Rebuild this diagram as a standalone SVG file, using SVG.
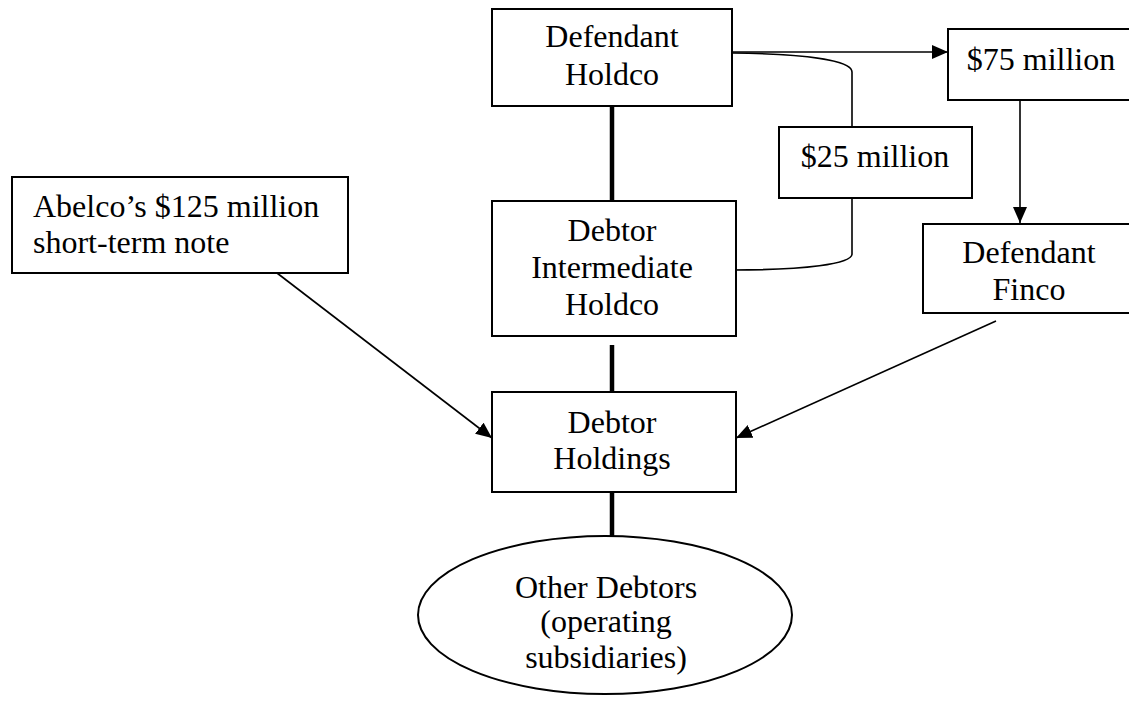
<svg xmlns="http://www.w3.org/2000/svg" width="1129" height="704" viewBox="0 0 1129 704">
<style>
.box{fill:#fff;stroke:#000;stroke-width:2}
.t{font-family:"Liberation Serif","Times New Roman",serif;font-size:32px;fill:#000}
.c{text-anchor:middle}
.thick{stroke:#000;stroke-width:4.5;fill:none}
.thin{stroke:#000;stroke-width:1.6;fill:none}
</style>
<defs>
<marker id="ah" viewBox="0 0 16 14" refX="16" refY="7" markerWidth="16" markerHeight="14" markerUnits="userSpaceOnUse" orient="auto">
<path d="M0,0 L16,7 L0,14 Z" fill="#000"/>
</marker>
</defs>
<rect width="1129" height="704" fill="#fff"/>
<g id="connectors">
<line class="thick" x1="612" y1="106" x2="612" y2="201"/>
<line class="thick" x1="612" y1="345" x2="612" y2="392"/>
<line class="thick" x1="612" y1="489" x2="612" y2="536"/>
<line class="thin" x1="732" y1="52" x2="948" y2="52" marker-end="url(#ah)"/>
<path class="thin" d="M732,53 C805,54 852,60 852,72 L852,127"/>
<path class="thin" d="M852,198 L852,254 C852,264 805,270 732,270"/>
<line class="thin" x1="1020" y1="101" x2="1020" y2="223" marker-end="url(#ah)"/>
<line class="thin" x1="277" y1="273" x2="492" y2="438" marker-end="url(#ah)"/>
<line class="thin" x1="996" y1="321" x2="736" y2="438" marker-end="url(#ah)"/>
</g>
<g id="holdco">
<rect class="box" x="492" y="9" width="240" height="97"/>
<text class="t c" x="612" y="47">Defendant</text>
<text class="t c" x="612" y="85">Holdco</text>
</g>
<g id="m75">
<rect class="box" x="948" y="29" width="185" height="71"/>
<text class="t c" x="1041" y="70">$75 million</text>
</g>
<g id="m25">
<rect class="box" x="779" y="127" width="193" height="71"/>
<text class="t c" x="875" y="167">$25 million</text>
</g>
<g id="finco">
<rect class="box" x="923" y="224" width="210" height="89"/>
<text class="t c" x="1029" y="263">Defendant</text>
<text class="t c" x="1029" y="300">Finco</text>
</g>
<g id="abelco">
<rect class="box" x="12" y="177" width="336" height="96"/>
<text class="t" x="33" y="217">Abelco’s $125 million</text>
<text class="t" x="33" y="253">short-term note</text>
</g>
<g id="intermediate">
<rect class="box" x="492" y="201" width="244" height="135"/>
<text class="t c" x="612" y="241">Debtor</text>
<text class="t c" x="612" y="278">Intermediate</text>
<text class="t c" x="612" y="315">Holdco</text>
</g>
<g id="holdings">
<rect class="box" x="492" y="392" width="244" height="100"/>
<text class="t c" x="612" y="433">Debtor</text>
<text class="t c" x="612" y="469">Holdings</text>
</g>
<g id="others">
<ellipse class="box" cx="605" cy="615" rx="187" ry="79"/>
<text class="t c" x="606" y="598">Other Debtors</text>
<text class="t c" x="606" y="632">(operating</text>
<text class="t c" x="606" y="668">subsidiaries)</text>
</g>
</svg>
